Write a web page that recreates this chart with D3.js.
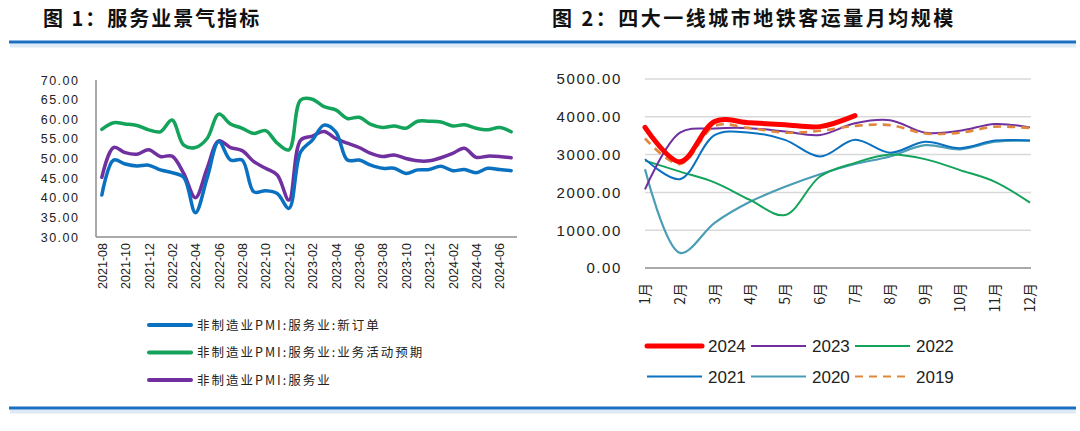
<!DOCTYPE html>
<html>
<head>
<meta charset="utf-8">
<script src="https://cdn.jsdelivr.net/npm/d3@7/dist/d3.min.js"></script>
<style>body{margin:0;background:#fff;}</style>
</head>
<body>
<script>
// ---- data: figure 1 (services PMI) ----
const months = [
  '2021-08','2021-09','2021-10','2021-11','2021-12','2022-01','2022-02','2022-03','2022-04','2022-05',
  '2022-06','2022-07','2022-08','2022-09','2022-10','2022-11','2022-12','2023-01','2023-02','2023-03',
  '2023-04','2023-05','2023-06','2023-07','2023-08','2023-09','2023-10','2023-11','2023-12','2024-01',
  '2024-02','2024-03','2024-04','2024-05','2024-06','2024-07'
];
const newOrders = [40.7,49.6,48.6,48.1,48.3,47.1,46.4,45.2,36.2,45.0,54.3,49.6,49.6,41.5,41.8,41.1,37.3,51.7,54.7,58.5,56.8,49.6,49.6,48.3,47.5,47.5,46.2,47.1,47.2,48.0,46.9,47.2,46.4,47.5,47.2,46.9];
const expectations = [57.4,59.1,58.8,58.4,57.3,56.8,59.8,53.4,52.8,55.1,61.3,58.8,57.7,56.4,57.1,53.9,52.2,64.9,65.1,63.2,62.4,60.2,60.5,58.7,57.9,58.3,57.7,59.5,59.5,59.3,58.3,58.6,57.7,57.3,57.9,56.8];
const services = [45.2,52.8,51.5,51.1,52.2,50.5,50.6,46.2,40.0,47.5,54.5,52.8,52.0,49.2,47.5,45.8,39.4,54.7,55.7,56.9,55.1,53.9,52.8,51.3,50.5,50.9,50.0,49.4,49.4,50.2,51.3,52.6,50.3,50.6,50.5,50.2];
const leftTicks = [30,35,40,45,50,55,60,65,70];
const leftSeries = ['非制造业PMI:服务业:新订单','非制造业PMI:服务业:业务活动预期','非制造业PMI:服务业'];

// ---- data: figure 2 (metro ridership) ----
const monthNames = ['1月','2月','3月','4月','5月','6月','7月','8月','9月','10月','11月','12月'];
const y2024 = [3720,2810,3880,3840,3790,3740,4030];
const y2023 = [2080,3580,3690,3700,3610,3520,3830,3910,3580,3630,3810,3720];
const y2022 = [2840,2550,2260,1800,1400,2420,2780,3000,2880,2590,2280,1730];
const y2021 = [2880,2350,3520,3580,3390,2950,3390,3050,3340,3170,3370,3370];
const y2020 = [2610,400,1200,1750,2150,2480,2750,2950,3250,3140,3340,3370];
const y2019 = [3430,2750,3760,3700,3580,3630,3760,3780,3560,3580,3740,3700];
const rightTicks = [0,1000,2000,3000,4000,5000];
const rightYears = ['2024','2023','2022','2021','2020','2019'];

const W = 1080, H = 431;
const svg = d3.select('body').append('svg')
  .attr('width', W).attr('height', H)
  .attr('xmlns', 'http://www.w3.org/2000/svg')
  .style('background', '#ffffff');

const cjk = '"Noto Sans CJK SC", "Noto Sans", sans-serif';
const latin = '"Liberation Sans", Arial, sans-serif';

// Titles
svg.append('text').attr('x', 43).attr('y', 26)
  .attr('font-family', cjk).attr('font-size', 20).attr('font-weight', 'bold')
  .attr('letter-spacing', 2).attr('fill', '#111')
  .text('图 1：服务业景气指标');
svg.append('text').attr('x', 552).attr('y', 26)
  .attr('font-family', cjk).attr('font-size', 20).attr('font-weight', 'bold')
  .attr('letter-spacing', 2.5).attr('fill', '#111')
  .text('图 2：四大一线城市地铁客运量月均规模');

// Separator rules (with a soft shadow below)
[42, 408].forEach(y => {
  svg.append('rect').attr('x', 10).attr('y', y + 1.5).attr('width', 1066).attr('height', 4)
    .attr('fill', '#c8dcf0').attr('opacity', 0.6);
  svg.append('line').attr('x1', 9).attr('x2', 1076).attr('y1', y).attr('y2', y)
    .attr('stroke', '#1a6fc2').attr('stroke-width', 3);
});

// ================= Figure 1 =================
const x1 = d3.scalePoint().domain(months).range([96, 517]).padding(0.5);
const y1 = d3.scaleLinear().domain([30, 70]).range([237, 80]);

const g1 = svg.append('g');
g1.append('line').attr('x1', 96).attr('x2', 96).attr('y1', 80).attr('y2', 237)
  .attr('stroke', '#8c8c8c').attr('stroke-width', 1.5);
g1.append('line').attr('x1', 96).attr('x2', 517).attr('y1', 237).attr('y2', 237)
  .attr('stroke', '#8c8c8c').attr('stroke-width', 1.5);

const yAxis1 = d3.axisLeft(y1).tickValues(leftTicks).tickSize(0).tickPadding(0)
  .tickFormat(d => d3.format('.2f')(d));
g1.append('g').attr('transform', 'translate(79.5,0)').call(yAxis1)
  .call(g => g.select('.domain').remove())
  .selectAll('text').attr('font-family', latin).attr('font-size', 12.5)
  .attr('letter-spacing', 1.5).attr('fill', '#222');

const xAxis1 = d3.axisBottom(x1).tickValues(months.filter((d, i) => i % 2 === 0)).tickSize(0);
g1.append('g').attr('transform', 'translate(0,243)').call(xAxis1)
  .call(g => g.select('.domain').remove())
  .selectAll('text')
  .attr('font-family', latin).attr('font-size', 12.5).attr('fill', '#222')
  .attr('text-anchor', 'end').attr('dy', '0.35em').attr('dx', 0).attr('y', 0)
  .attr('transform', 'rotate(-90)');

const leftColors = ['#0a70c0', '#13a35a', '#7030a0'];
const leftData = [newOrders, expectations, services];
const line1 = d3.line().x((d, i) => x1(months[i])).y(d => y1(d)).curve(d3.curveCatmullRom.alpha(0.5));
[1, 2, 0].forEach(k => {
  g1.append('path').datum(leftData[k]).attr('d', line1)
    .attr('fill', 'none').attr('stroke', leftColors[k]).attr('stroke-width', 3.5)
    .attr('stroke-linejoin', 'round').attr('stroke-linecap', 'round');
});

// legend 1
leftSeries.forEach((name, i) => {
  const ly = 325 + i * 27.5;
  g1.append('line').attr('x1', 149).attr('x2', 191).attr('y1', ly).attr('y2', ly)
    .attr('stroke', leftColors[i]).attr('stroke-width', 4).attr('stroke-linecap', 'round');
  g1.append('text').attr('x', 197).attr('y', ly + 4.5)
    .attr('font-family', cjk).attr('font-size', 12.5).attr('letter-spacing', 2)
    .attr('fill', '#222').text(name);
});

// ================= Figure 2 =================
const x2 = d3.scalePoint().domain(monthNames).range([645, 1030]);
const y2 = d3.scaleLinear().domain([0, 5000]).range([268, 79]);
const g2 = svg.append('g');

rightTicks.filter(d => d > 0).forEach(t => {
  g2.append('line').attr('x1', 645).attr('x2', 1031).attr('y1', y2(t)).attr('y2', y2(t))
    .attr('stroke', '#d9d9d9').attr('stroke-width', 1.5);
});
g2.append('line').attr('x1', 645).attr('x2', 1031).attr('y1', y2(0)).attr('y2', y2(0))
  .attr('stroke', '#8c8c8c').attr('stroke-width', 1.5);

const yAxis2 = d3.axisLeft(y2).tickValues(rightTicks).tickSize(0).tickPadding(0)
  .tickFormat(d => d3.format('.2f')(d));
g2.append('g').attr('transform', 'translate(622,0)').call(yAxis2)
  .call(g => g.select('.domain').remove())
  .selectAll('text').attr('font-family', latin).attr('font-size', 15)
  .attr('letter-spacing', 1.6).attr('fill', '#222');

const xAxis2 = d3.axisBottom(x2).tickSize(0);
g2.append('g').attr('transform', 'translate(0,283)').call(xAxis2)
  .call(g => g.select('.domain').remove())
  .selectAll('text')
  .attr('font-family', cjk).attr('font-size', 14).attr('fill', '#222')
  .attr('text-anchor', 'end').attr('dy', '0.35em').attr('y', 0)
  .attr('transform', 'rotate(-90)');

const rightData = [y2024, y2023, y2022, y2021, y2020, y2019];
const rightColors = ['#ff0000', '#7030a0', '#13a35a', '#0a70c0', '#4a9db5', '#e0873c'];
const rightWidths = [5, 2, 2, 2, 2.2, 2.6];
const rightDash = [null, null, null, null, null, '8,6'];
const line2 = d3.line().x((d, i) => x2(monthNames[i])).y(d => y2(d)).curve(d3.curveCatmullRom.alpha(0.5));
[4, 2, 3, 1, 5, 0].forEach(k => {
  g2.append('path').datum(rightData[k]).attr('d', line2)
    .attr('fill', 'none').attr('stroke', rightColors[k]).attr('stroke-width', rightWidths[k])
    .attr('stroke-dasharray', rightDash[k]).attr('stroke-linejoin', 'round')
    .attr('stroke-linecap', k === 0 ? 'round' : 'butt');
});

// legend 2
rightYears.forEach((yr, i) => {
  const col = i % 3, row = Math.floor(i / 3);
  const lx = 647 + col * 104, ly = 346 + row * 30.5;
  g2.append('line').attr('x1', lx).attr('x2', lx + 55).attr('y1', ly).attr('y2', ly)
    .attr('stroke', rightColors[i]).attr('stroke-width', i === 0 ? 5 : 2.2)
    .attr('stroke-dasharray', rightDash[i]).attr('stroke-linecap', i === 0 ? 'round' : 'butt');
  g2.append('text').attr('x', lx + 61).attr('y', ly + 6)
    .attr('font-family', latin).attr('font-size', 17).attr('fill', '#222').text(yr);
});
</script>
</body>
</html>
